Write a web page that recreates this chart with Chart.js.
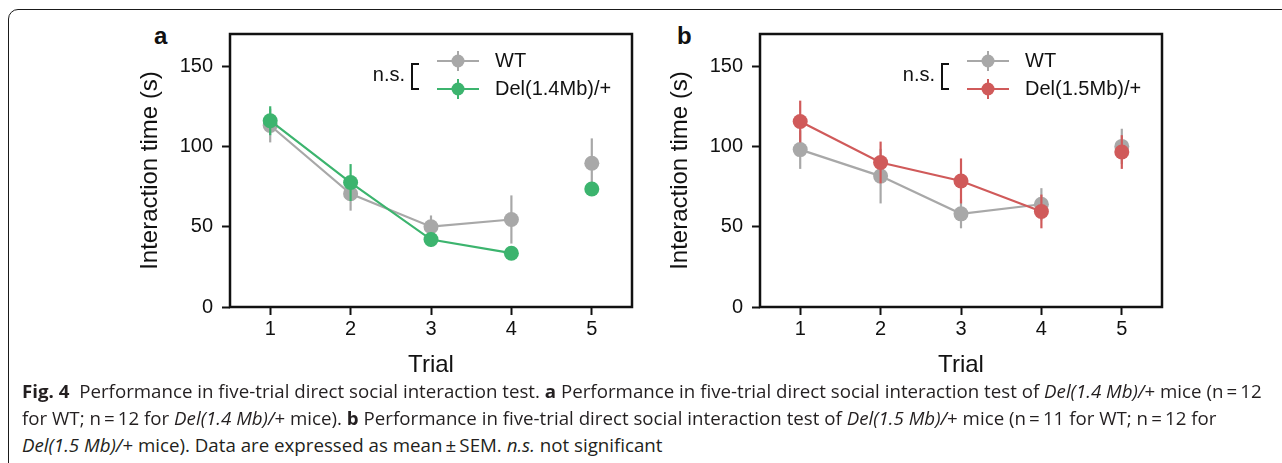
<!DOCTYPE html>
<html>
<head>
<meta charset="utf-8">
<script src="https://cdn.jsdelivr.net/npm/chart.js"></script>
<style>
  body { margin: 0; width: 1282px; height: 463px; background: #fff; overflow: hidden; position: relative; }
  #box { position: absolute; left: 8px; top: 9px; width: 1320px; height: 520px; border: 1.5px solid #1a1a1a; border-top-left-radius: 10px; }
  .panel { position: absolute; top: 20px; width: 520px; height: 360px; }
  .tag { position: absolute; top: 22px; font: bold 24px 'Liberation Sans', Arial, sans-serif; color: #111; }
  .ln { position: absolute; left: 22px; white-space: nowrap; font: 18px 'Open Sans', 'Noto Sans', sans-serif; line-height: 20px; color: #231f20; transform-origin: 0 0; }
  .ln b { font-weight: 700; }
</style>
</head>
<body>
<div id="box"></div>
<div class="tag" style="left:154px">a</div>
<div class="tag" style="left:677px">b</div>
<div class="panel" style="left:130px"><canvas id="plotA" width="520" height="360"></canvas></div>
<div class="panel" style="left:660px"><canvas id="plotB" width="520" height="360"></canvas></div>

<div class="ln" id="l1" style="top:381px"><b>Fig. 4</b>&nbsp; Performance in five-trial direct social interaction test. <b>a</b> Performance in five-trial direct social interaction test of <i>Del(1.4 Mb)/</i>+ mice (n&thinsp;=&thinsp;12</div>
<div class="ln" id="l2" style="top:408px">for WT; n&thinsp;=&thinsp;12 for <i>Del(1.4 Mb)/</i>+ mice). <b>b</b> Performance in five-trial direct social interaction test of <i>Del(1.5 Mb)/</i>+ mice (n&thinsp;=&thinsp;11 for WT; n&thinsp;=&thinsp;12 for</div>
<div class="ln" id="l3" style="top:435px"><i>Del(1.5 Mb)/</i>+ mice). Data are expressed as mean&thinsp;±&thinsp;SEM. <i>n.s.</i> not significant</div>

<script>
// trials on the x axis
const trials = [1, 2, 3, 4, 5];
const yTicks = [0, 50, 100, 150];

// panel a: WT vs Del(1.4Mb)/+  (mean, sem)
const wtA = [113, 70.5, 50, 54.5, 89.5];
const wtASem = [10.5, 10.5, 7, 15, 15.5];
const delA = [116, 77.5, 42, 33.5, 73.5];
const delASem = [9, 11.5, 4.5, 2.5, 2.5];

// panel b: WT vs Del(1.5Mb)/+
const wtB = [98, 81.5, 58, 64, 100];
const wtBSem = [12, 17, 9, 10, 11];
const delB = [115.5, 90, 78.5, 59.5, 96.5];
const delBSem = [13, 13, 14, 10.5, 10.5];

const GREY = 'rgb(168,168,168)';
const GREEN = 'rgb(60,180,110)';
const RED = 'rgb(208,90,90)';
const FONT = "'Liberation Sans', Arial, sans-serif";

function points(vals) {
  return trials.map((t, i) => ({ x: t, y: vals[i] }));
}

function series(label, vals, sem, color, order) {
  return {
    label: label,
    data: points(vals),
    sem: sem,
    order: order,
    borderColor: color,
    backgroundColor: color,
    pointBackgroundColor: color,
    pointBorderWidth: 0,
    pointRadius: 7.5,
    borderWidth: 2.2,
    tension: 0,
    // trial 5 is not joined to trial 4
    segment: { borderColor: c => c.p0DataIndex === 3 ? 'rgba(0,0,0,0)' : color }
  };
}

const errorBars = {
  id: 'errorBars',
  beforeDatasetDraw(chart, args) {
    const ds = chart.data.datasets[args.index];
    const ys = chart.scales.y;
    const ctx = chart.ctx;
    ctx.save();
    ctx.strokeStyle = ds.borderColor;
    ctx.lineWidth = 2.2;
    ds.data.forEach((p, i) => {
      const x = args.meta.data[i].x;
      ctx.beginPath();
      ctx.moveTo(x, ys.getPixelForValue(p.y - ds.sem[i]));
      ctx.lineTo(x, ys.getPixelForValue(p.y + ds.sem[i]));
      ctx.stroke();
    });
    ctx.restore();
  }
};

const frame = {
  id: 'frame',
  beforeDatasetsDraw(chart) {
    const a = chart.chartArea;
    const ctx = chart.ctx;
    ctx.save();
    ctx.strokeStyle = '#111';
    ctx.lineWidth = 2.5;
    ctx.strokeRect(a.left, a.top, a.right - a.left, a.bottom - a.top);
    ctx.restore();
  }
};

const legendBox = {
  id: 'legendBox',
  afterDraw(chart) {
    const a = chart.chartArea;
    const ctx = chart.ctx;
    const L = a.left, T = a.top;
    ctx.save();
    ctx.font = '20px ' + FONT;
    ctx.fillStyle = '#111';
    ctx.textBaseline = 'middle';
    ctx.textAlign = 'right';
    ctx.fillText('n.s.', L + 175, T + 41);
    ctx.strokeStyle = '#111';
    ctx.lineWidth = 2;
    ctx.beginPath();
    ctx.moveTo(L + 189, T + 30);
    ctx.lineTo(L + 182, T + 30);
    ctx.lineTo(L + 182, T + 55);
    ctx.lineTo(L + 189, T + 55);
    ctx.stroke();
    const rows = [chart.data.datasets[0], chart.data.datasets[1]];
    const ys = [T + 27, T + 55];
    rows.forEach((ds, k) => {
      const y = ys[k];
      ctx.strokeStyle = ds.borderColor;
      ctx.lineWidth = 2;
      ctx.beginPath();
      ctx.moveTo(L + 207, y); ctx.lineTo(L + 249, y);
      ctx.moveTo(L + 228, y - 10); ctx.lineTo(L + 228, y + 10);
      ctx.stroke();
      ctx.fillStyle = ds.borderColor;
      ctx.beginPath();
      ctx.arc(L + 228, y, 6.5, 0, Math.PI * 2);
      ctx.fill();
      ctx.fillStyle = '#111';
      ctx.textAlign = 'left';
      ctx.fillText(ds.label, L + 265, y);
    });
    ctx.restore();
  }
};

function config_new(wt, wtSem, del, delSem, delLabel, color) {
  return {
    type: 'line',
    data: {
      datasets: [
        series('WT', wt, wtSem, GREY, 2),
        series(delLabel, del, delSem, color, 1)
      ]
    },
    options: {
      responsive: false,
      animation: false,
      layout: { padding: { left: 0, top: 14, right: 18, bottom: 0 } },
      plugins: { legend: { display: false }, tooltip: { enabled: false } },
      scales: {
        x: {
          type: 'linear',
          min: 0.5,
          max: 5.5,
          afterBuildTicks: s => { s.ticks = trials.map(v => ({ value: v })); },
          afterFit: s => { s.height = 73; s.paddingLeft = 0; s.paddingRight = 0; },
          border: { display: false },
          grid: { drawOnChartArea: false, drawTicks: true, tickLength: 8, tickWidth: 2, tickColor: '#111' },
          ticks: { padding: 2, color: '#111', font: { family: FONT, size: 20 } },
          title: { display: true, text: 'Trial', color: '#111', padding: { top: 0, bottom: 0 }, font: { family: FONT, size: 24 } }
        },
        y: {
          min: 0,
          max: 170,
          afterBuildTicks: s => { s.ticks = yTicks.map(v => ({ value: v })); },
          afterFit: s => { s.width = 100; s.paddingTop = 0; s.paddingBottom = 0; },
          border: { display: false },
          grid: { drawOnChartArea: false, drawTicks: true, tickLength: 8, tickWidth: 2, tickColor: '#111' },
          ticks: { padding: 9, color: '#111', font: { family: FONT, size: 20 } },
          title: { display: true, text: 'Interaction time (s)', color: '#111', padding: { top: 6, bottom: 0 }, font: { family: FONT, size: 24 } }
        }
      }
    },
    plugins: [frame, errorBars, legendBox]
  };
}

new Chart(document.getElementById('plotA'), config_new(wtA, wtASem, delA, delASem, 'Del(1.4Mb)/+', GREEN));
new Chart(document.getElementById('plotB'), config_new(wtB, wtBSem, delB, delBSem, 'Del(1.5Mb)/+', RED));

// squeeze the caption to the width of the printed lines
const l1 = document.getElementById('l1');
const sx = 1240 / l1.scrollWidth;
['l1', 'l2', 'l3'].forEach(id => { document.getElementById(id).style.transform = 'scaleX(' + sx + ')'; });
</script>
</body>
</html>
